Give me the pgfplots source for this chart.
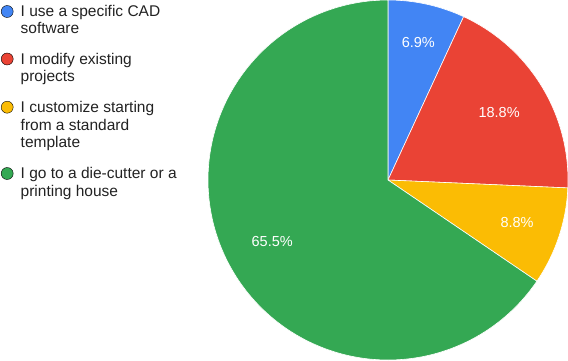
\documentclass[border=0pt]{standalone}
\usepackage{pgfplots}
\pgfplotsset{compat=1.18}
\usepackage{fontspec}
\setmainfont{Liberation Sans}
\definecolor{cblue}{HTML}{4285F4}
\definecolor{cred}{HTML}{EA4335}
\definecolor{cyellow}{HTML}{FBBC04}
\definecolor{cgreen}{HTML}{34A853}
\definecolor{ctext}{HTML}{222222}
\begin{document}
\begin{tikzpicture}
\begin{axis}[x=1bp, y=1bp, xmin=0, xmax=568, ymin=0, ymax=360,
  scale only axis, hide axis, clip=false]
% Pie slices (percentages: 6.9, 18.8, 8.8, 65.5; clockwise from top)
% angle = 90 - 3.6 * cumulative percentage
\addplot[fill=cblue, draw=white, line width=0.6bp, domain=65.16:90, samples=40]
  ({388+180*cos(x)}, {180+180*sin(x)}) -- (axis cs:388,180) -- cycle;
\addplot[fill=cred, draw=white, line width=0.6bp, domain=-2.52:65.16, samples=80]
  ({388+180*cos(x)}, {180+180*sin(x)}) -- (axis cs:388,180) -- cycle;
\addplot[fill=cyellow, draw=white, line width=0.6bp, domain=-34.2:-2.52, samples=40]
  ({388+180*cos(x)}, {180+180*sin(x)}) -- (axis cs:388,180) -- cycle;
\addplot[fill=cgreen, draw=white, line width=0.6bp, domain=-270:-34.2, samples=200]
  ({388+180*cos(x)}, {180+180*sin(x)}) -- (axis cs:388,180) -- cycle;
% slice labels
\begin{scope}[every node/.style={font=\fontsize{14.5bp}{17bp}\selectfont, text=white, inner sep=0pt, anchor=center}]
\node at (axis cs:418.3,317.7) {6.9\%};
\node at (axis cs:499.1,247.6) {18.8\%};
\node at (axis cs:517.1,137.2) {8.8\%};
\node at (axis cs:272.2,118.7) {65.5\%};
\end{scope}
% legend markers
\pgfplotsset{legdot/.style={only marks, mark=*, mark size=6bp, mark options={draw=none, fill=#1, scale=1}}}
\addplot[legdot=cblue] coordinates {(7.2,348.5)};
\addplot[legdot=cred] coordinates {(7.2,301)};
\addplot[legdot=cyellow] coordinates {(7.2,252.8)};
\addplot[legdot=cgreen] coordinates {(7.2,186.5)};
% legend text
\begin{scope}[every node/.style={font=\fontsize{15.5bp}{17.6bp}\selectfont, text=ctext, inner sep=0pt, anchor=base west}]
\node at (axis cs:20.5,344) {I use a specific CAD};
\node at (axis cs:20.5,326.4) {software};
\node at (axis cs:20.5,295.7) {I modify existing};
\node at (axis cs:20.5,278.1) {projects};
\node at (axis cs:20.5,247.4) {I customize starting};
\node at (axis cs:20.5,229.8) {from a standard};
\node at (axis cs:20.5,212.2) {template};
\node at (axis cs:20.5,181.2) {I go to a die-cutter or a};
\node at (axis cs:20.5,163.6) {printing house};
\end{scope}
\end{axis}
\pgfresetboundingbox
\path (current axis.south west) rectangle (current axis.north east);
\end{tikzpicture}
\end{document}
